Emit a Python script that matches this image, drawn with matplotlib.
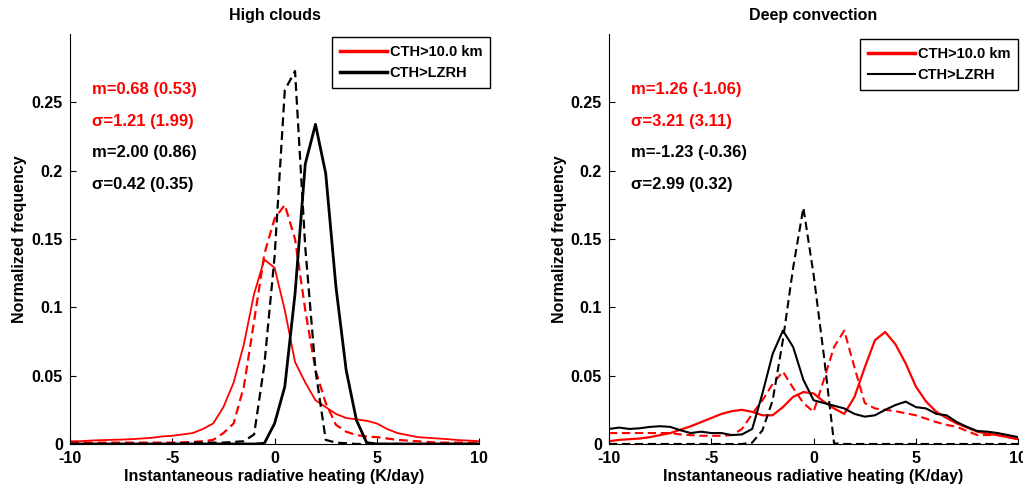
import numpy as np
import matplotlib
matplotlib.use("Agg")
import matplotlib.pyplot as plt
from matplotlib.lines import Line2D

plt.rcParams['font.family'] = ['Liberation Sans', 'DejaVu Sans']
plt.rcParams['font.weight'] = 'bold'
plt.rcParams['axes.unicode_minus'] = False

# heating rate bins (K/day)
heat = np.arange(-10, 10.01, 0.5)

# High clouds
hc_red = [0.002, 0.002, 0.0025, 0.0028, 0.003, 0.0032, 0.0035, 0.004, 0.0045, 0.0055,
          0.006, 0.007, 0.008, 0.011, 0.015, 0.027, 0.045, 0.073, 0.110, 0.135,
          0.129, 0.098, 0.060, 0.045, 0.032, 0.027, 0.022, 0.019, 0.018, 0.017,
          0.015, 0.011, 0.008, 0.0065, 0.005, 0.0045, 0.004, 0.0035, 0.0028, 0.0025, 0.002]
hc_red_d = [0.001] * 11 + [0.0012, 0.0015, 0.002, 0.003, 0.008, 0.015, 0.042, 0.090, 0.139,
          0.165, 0.175, 0.150, 0.098, 0.054, 0.030, 0.014, 0.009, 0.0065, 0.0055,
          0.005, 0.004, 0.003, 0.0025, 0.002, 0.0015] + [0.001] * 5
hc_blk = [0.0] * 19 + [0.0005, 0.015, 0.042, 0.110, 0.205, 0.234, 0.198, 0.115, 0.054,
          0.0175, 0.001] + [0.0] * 11
hc_blk_d = [0.0] * 10 + [0.0005, 0.0005, 0.001, 0.001, 0.001, 0.001, 0.0015, 0.002, 0.007,
            0.058, 0.137, 0.259, 0.273, 0.144, 0.054, 0.003, 0.001, 0.0005] + [0.0] * 13

# Deep convection
dc_red = [0.002, 0.003, 0.0035, 0.004, 0.005, 0.0065, 0.008, 0.0105, 0.013, 0.016,
          0.019, 0.022, 0.024, 0.025, 0.0235, 0.021, 0.021, 0.027, 0.0345, 0.038,
          0.037, 0.031, 0.026, 0.022, 0.0345, 0.056, 0.076, 0.082, 0.073, 0.059,
          0.042, 0.031, 0.0235, 0.019, 0.015, 0.012, 0.009, 0.0075, 0.0065, 0.005, 0.0035]
dc_red_d = [0.008] * 7 + [0.007, 0.0065, 0.006, 0.006, 0.006, 0.0065, 0.011, 0.022, 0.032,
            0.044, 0.053, 0.041, 0.030, 0.0235, 0.047, 0.071, 0.083, 0.056, 0.030,
            0.026, 0.025, 0.024, 0.0225, 0.021, 0.0185, 0.016, 0.014, 0.0125, 0.0095,
            0.0065, 0.0065, 0.0065, 0.005, 0.0035]
dc_blk = [0.011, 0.012, 0.011, 0.0115, 0.0125, 0.013, 0.0125, 0.010, 0.008, 0.009,
          0.008, 0.008, 0.0065, 0.007, 0.011, 0.037, 0.066, 0.083, 0.071, 0.047,
          0.032, 0.030, 0.028, 0.026, 0.022, 0.020, 0.021, 0.025, 0.0285, 0.031,
          0.027, 0.026, 0.022, 0.021, 0.016, 0.0125, 0.0095, 0.009, 0.008, 0.0065, 0.005]
dc_blk_d = [0.0] * 14 + [0.001, 0.010, 0.032, 0.076, 0.129, 0.173, 0.124, 0.065, 0.0005] + [0.0] * 18

hc_stats = ["m=0.68 (0.53)", "\u03c3=1.21 (1.99)", "m=2.00 (0.86)", "\u03c3=0.42 (0.35)"]
dc_stats = ["m=1.26 (-1.06)", "\u03c3=3.21 (3.11)", "m=-1.23 (-0.36)", "\u03c3=2.99 (0.32)"]
stat_colors = ["red", "red", "black", "black"]

dash = (0, (4, 2.2))

fig = plt.figure(figsize=(10.23, 4.92), dpi=100)
ax1 = fig.add_axes([0.0684, 0.0976, 0.40, 0.833])
ax2 = fig.add_axes([0.5953, 0.0976, 0.40, 0.833])

ax1.plot(heat, hc_red, color="red", lw=1.3)
ax1.plot(heat, hc_red_d, color="red", lw=1.6, linestyle=dash)
ax1.plot(heat, hc_blk_d, color="black", lw=1.6, linestyle=dash)
ax1.plot(heat, hc_blk, color="black", lw=2.0)

ax2.plot(heat, dc_red, color="red", lw=1.6)
ax2.plot(heat, dc_red_d, color="red", lw=1.5, linestyle=dash)
ax2.plot(heat, dc_blk_d, color="black", lw=1.5, linestyle=dash)
ax2.plot(heat, dc_blk, color="black", lw=1.5)

for ax, title, stats, lws, anchor in [
        (ax1, "High clouds", hc_stats, (2.5, 2.5), (1.027, 0.993)),
        (ax2, "Deep convection", dc_stats, (2.5, 1.5), (1.0, 0.988))]:
    ax.set_xlim(-10, 10)
    ax.set_ylim(0, 0.3)
    ax.set_xticks([-10, -5, 0, 5, 10])
    ax.set_yticks([0, 0.05, 0.1, 0.15, 0.2, 0.25])
    ax.set_yticklabels(["0", "0.05", "0.1", "0.15", "0.2", "0.25"])
    ax.tick_params(direction="in", length=4, labelsize=11.5)
    ax.tick_params(axis="y", pad=5)
    ax.tick_params(axis="x", pad=5)
    ax.spines["top"].set_visible(False)
    ax.spines["right"].set_visible(False)
    ax.set_title(title, fontsize=11.5, fontweight="bold", pad=10)
    ax.set_xlabel("Instantaneous radiative heating (K/day)", fontsize=11.5, fontweight="bold", labelpad=2)
    ax.set_ylabel("Normalized frequency", fontsize=11.5, fontweight="bold", labelpad=3)
    for i, (s, c) in enumerate(zip(stats, stat_colors)):
        ax.text(-8.9, 0.2595 - i * 0.0232, s, color=c, fontsize=12, fontweight="bold",
                va="center", ha="left")
    handles = [Line2D([], [], color="red", lw=lws[0]),
               Line2D([], [], color="black", lw=lws[1])]
    leg = ax.legend(handles, ["CTH>10.0 km", "CTH>LZRH"], loc="upper right",
                    bbox_to_anchor=anchor, borderaxespad=0, fancybox=False,
                    framealpha=1, edgecolor="black", handlelength=3.2,
                    prop={"size": 10.5, "weight": "bold"}, labelspacing=0.5,
                    borderpad=0.55, handletextpad=0.2)
    leg.get_frame().set_linewidth(1.0)

fig.savefig("out.png", dpi=100)
